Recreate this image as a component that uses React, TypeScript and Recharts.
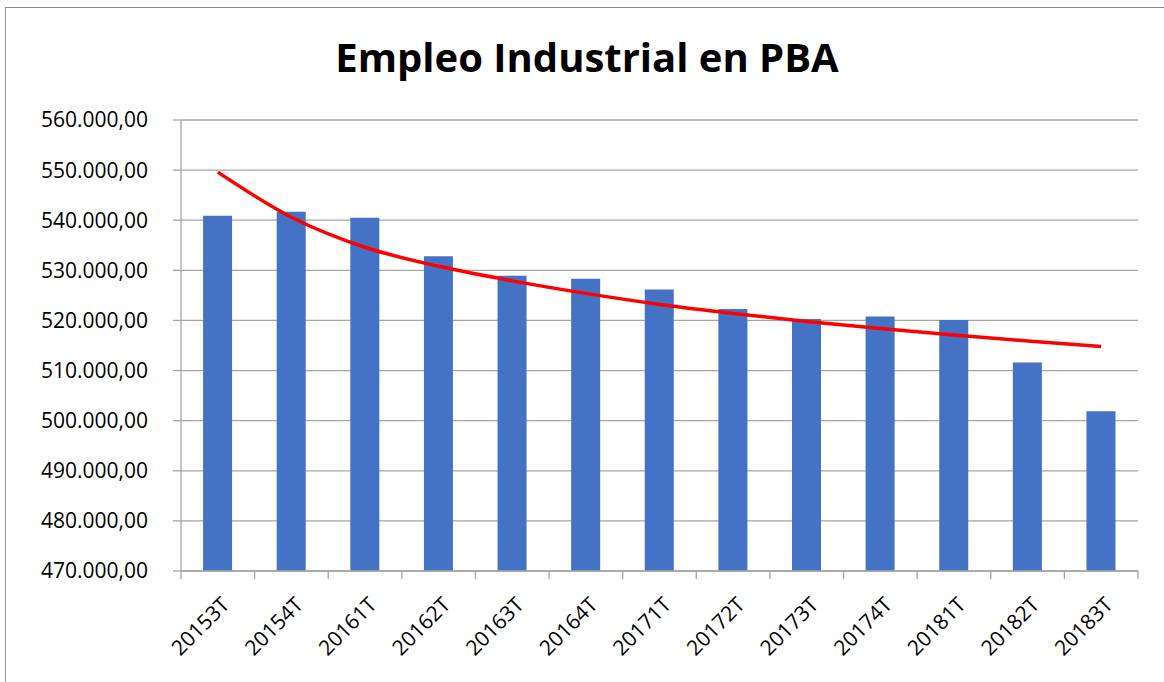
import { ComposedChart, Bar, Line, XAxis, YAxis, CartesianGrid } from 'recharts';

// trimestres (año + trimestre)
const periodos = ['20153T', '20154T', '20161T', '20162T', '20163T', '20164T', '20171T', '20172T', '20173T', '20174T', '20181T', '20182T', '20183T'];
// empleo industrial
const empleo = [540900, 541700, 540500, 532800, 528900, 528300, 526200, 522300, 520300, 520800, 520100, 511600, 501900];
// línea de tendencia (roja), leída punto a punto
const tendencia = [549600, 540600, 534600, 530800, 527900, 525400, 523200, 521400, 519800, 518400, 517100, 515900, 514800];
const yTicks = [470000, 480000, 490000, 500000, 510000, 520000, 530000, 540000, 550000, 560000];

const data = periodos.map((p, i) => ({ periodo: p, empleo: empleo[i], tendencia: tendencia[i] }));

const GRIS = '#a6a6a6';
const FONT = '"Open Sans", sans-serif';

// 560000 -> "560.000,00"
const fmt = (v: number) => {
  const miles = Math.round(v).toString().replace(/\B(?=(\d{3})+(?!\d))/g, '.');
  return `${miles},00`;
};

function PeriodoTick(props: any) {
  const { x, y, payload, index, visibleTicksCount } = props;
  const half = payload?.offset ?? 0;
  const tx = x + 13;
  const ty = y + 27;
  return (
    <g>
      <line x1={x - half} x2={x - half} y1={y - 8} y2={y} stroke={GRIS} strokeWidth={1.3} />
      {index === visibleTicksCount - 1 && (
        <line x1={x + half} x2={x + half} y1={y - 8} y2={y} stroke={GRIS} strokeWidth={1.3} />
      )}
      <text
        x={tx}
        y={ty}
        textAnchor="end"
        transform={`rotate(-45, ${tx}, ${ty})`}
        fontSize={21}
        fontFamily={FONT}
        fill="#000"
      >
        {payload.value}
      </text>
    </g>
  );
}

export default function App() {
  return (
    <div style={{ position: 'absolute', left: 0, top: 0, width: 1164, height: 682, background: '#fff' }}>
      <div
        style={{
          position: 'absolute',
          left: 5,
          top: 7,
          right: 0,
          bottom: 0,
          borderTop: '1.5px solid #8a8a8a',
          borderLeft: '1.5px solid #9a9a9a',
        }}
      />
      <ComposedChart
        width={1164}
        height={682}
        data={data}
        margin={{ top: 120, right: 26, left: 0, bottom: 0 }}
        barCategoryGap="30%"
        style={{ position: 'absolute', left: 0, top: 0 }}
      >
        <CartesianGrid vertical={false} stroke={GRIS} strokeWidth={1.3} />
        <XAxis
          dataKey="periodo"
          height={111}
          interval={0}
          axisLine={{ stroke: GRIS, strokeWidth: 1.3 }}
          tickLine={false}
          tickSize={8}
          tickMargin={0}
          tick={<PeriodoTick />}
        />
        <YAxis
          width={181}
          domain={[470000, 560000]}
          ticks={yTicks}
          interval={0}
          allowDataOverflow
          tickFormatter={fmt}
          axisLine={{ stroke: GRIS, strokeWidth: 1.3 }}
          tickLine={{ stroke: GRIS, strokeWidth: 1.3 }}
          tickSize={8}
          tickMargin={25}
          tick={{ fontSize: 21, fontFamily: FONT, fill: '#000' }}
        />
        <Bar dataKey="empleo" fill="#4472c4" isAnimationActive={false} />
        <Line
          dataKey="tendencia"
          type="monotone"
          stroke="#ff0000"
          strokeWidth={3.5}
          dot={false}
          activeDot={false}
          isAnimationActive={false}
        />
      </ComposedChart>
      <svg width={1164} height={100} style={{ position: 'absolute', left: 0, top: 0 }}>
        <text x={587} y={72} textAnchor="middle" fontFamily={FONT} fontWeight={700} fontSize={40} fill="#000">
          Empleo Industrial en PBA
        </text>
      </svg>
    </div>
  );
}
